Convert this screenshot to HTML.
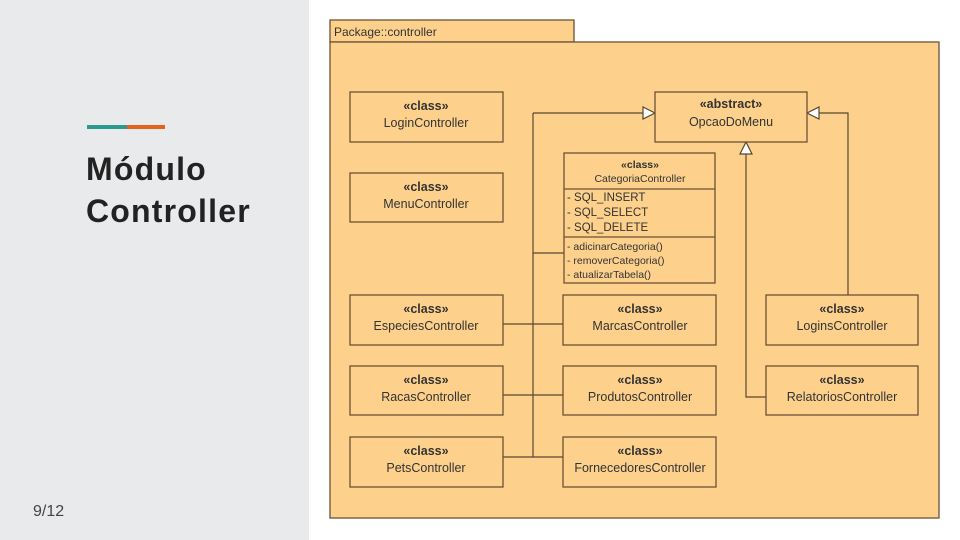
<!DOCTYPE html>
<html><head><meta charset="utf-8"><style>
html,body{margin:0;padding:0;}
body{width:960px;height:540px;position:relative;background:#fff;font-family:"Liberation Sans",sans-serif;overflow:hidden;}
.left{position:absolute;left:0;top:0;width:309px;height:540px;background:#e8eaeb;}
.bar1{position:absolute;left:87px;top:125px;width:40px;height:4px;background:#2a9a8c;}
.bar2{position:absolute;left:127px;top:125px;width:38px;height:4px;background:#e4621d;}
.title{position:absolute;left:86px;top:148px;font-size:32px;font-weight:bold;line-height:42px;color:#222;letter-spacing:1.2px;}
.num{position:absolute;left:33px;top:503px;font-size:16px;color:#444;}
svg{position:absolute;left:0;top:0;}
svg text{font-family:"Liberation Sans",sans-serif;fill:#333;}
</style></head><body>
<div class="left"></div>
<div class="bar1"></div><div class="bar2"></div>
<div class="title">Módulo<br>Controller</div>
<div class="num">9/12</div>
<svg width="960" height="540">
<g stroke="#6b5234" stroke-width="1.3" fill="#fdd18c">
<rect x="330" y="20" width="244" height="22"/>
<rect x="330" y="42" width="609" height="476"/>
</g>
<text x="334" y="36" font-size="12">Package::controller</text>
<g stroke="#5a4630" stroke-width="1.2" fill="none">
<polyline points="533,113 645,113"/>
<line x1="533" y1="113" x2="533" y2="457"/>
<line x1="533" y1="253" x2="564" y2="253"/>
<line x1="503" y1="324" x2="563" y2="324"/>
<line x1="503" y1="395" x2="563" y2="395"/>
<line x1="503" y1="457" x2="563" y2="457"/>
<polyline points="848,295 848,113 818,113"/>
<polyline points="766,397 746,397 746,153"/>
</g>
<g stroke="#5a4630" stroke-width="1.2" fill="#fff">
<polygon points="655,113 643,107 643,119"/>
<polygon points="807,113 819,107 819,119"/>
<polygon points="746,142 740,154 752,154"/>
</g>
<g stroke="#6b5234" stroke-width="1.3" fill="#fdd18c">
<rect x="350" y="92" width="153" height="50"/>
<rect x="350" y="173" width="153" height="49"/>
<rect x="350" y="295" width="153" height="50"/>
<rect x="350" y="366" width="153" height="49"/>
<rect x="350" y="437" width="153" height="50"/>
<rect x="655" y="92" width="152" height="50"/>
<rect x="564" y="153" width="151" height="130"/>
<line x1="564" y1="189" x2="715" y2="189"/>
<line x1="564" y1="237" x2="715" y2="237"/>
<rect x="563" y="295" width="153" height="50"/>
<rect x="563" y="366" width="153" height="49"/>
<rect x="563" y="437" width="153" height="50"/>
<rect x="766" y="295" width="152" height="50"/>
<rect x="766" y="366" width="152" height="49"/>
</g>
<g font-size="12.5" text-anchor="middle">
<text x="426" y="110" font-weight="bold">«class»</text><text x="426" y="127">LoginController</text>
<text x="426" y="191" font-weight="bold">«class»</text><text x="426" y="208">MenuController</text>
<text x="426" y="313" font-weight="bold">«class»</text><text x="426" y="330">EspeciesController</text>
<text x="426" y="384" font-weight="bold">«class»</text><text x="426" y="401">RacasController</text>
<text x="426" y="455" font-weight="bold">«class»</text><text x="426" y="472">PetsController</text>
<text x="731" y="108" font-weight="bold">«abstract»</text><text x="731" y="126">OpcaoDoMenu</text>
<text x="640" y="313" font-weight="bold">«class»</text><text x="640" y="330">MarcasController</text>
<text x="640" y="384" font-weight="bold">«class»</text><text x="640" y="401">ProdutosController</text>
<text x="640" y="455" font-weight="bold">«class»</text><text x="640" y="472">FornecedoresController</text>
<text x="842" y="313" font-weight="bold">«class»</text><text x="842" y="330">LoginsController</text>
<text x="842" y="384" font-weight="bold">«class»</text><text x="842" y="401">RelatoriosController</text>
</g>
<g font-size="10.5">
<text x="640" y="168" text-anchor="middle" font-weight="bold">«class»</text>
<text x="640" y="182" text-anchor="middle">CategoriaController</text>
<text x="567" y="201" font-size="11.5">- SQL_INSERT</text>
<text x="567" y="216" font-size="11.5">- SQL_SELECT</text>
<text x="567" y="231" font-size="11.5">- SQL_DELETE</text>
<text x="567" y="250">- adicinarCategoria()</text>
<text x="567" y="264">- removerCategoria()</text>
<text x="567" y="278">- atualizarTabela()</text>
</g>
</svg>
</body></html>
